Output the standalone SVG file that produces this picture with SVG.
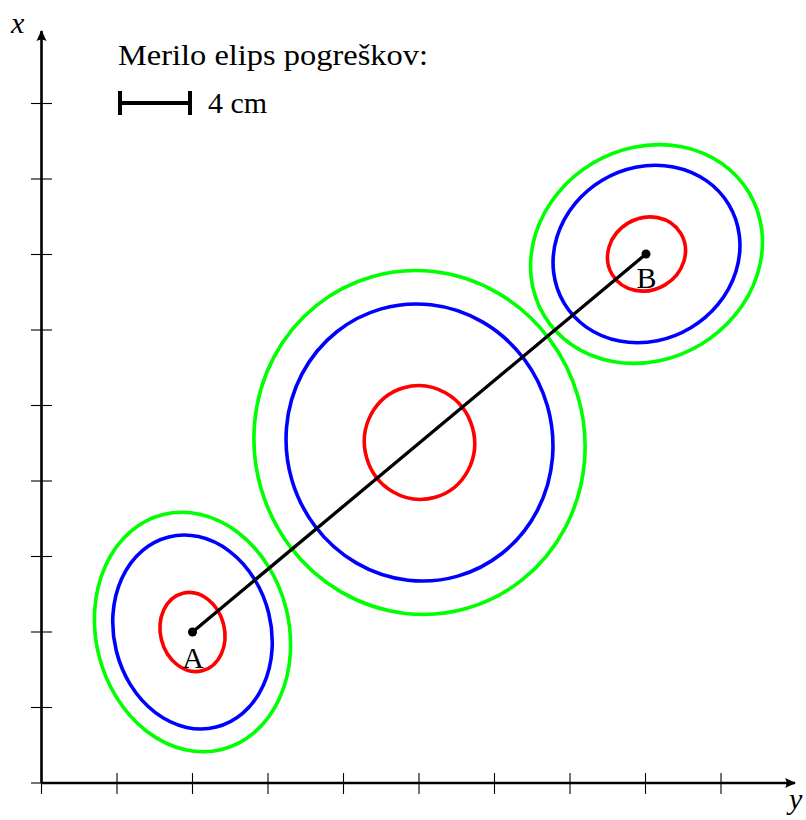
<svg xmlns="http://www.w3.org/2000/svg" width="806" height="820" viewBox="0 0 806 820">
<style>
.txt{font-family:"Liberation Serif","DejaVu Serif",serif;font-size:30px;fill:#000}
.it{font-style:italic}
.ax{stroke:#000;stroke-width:2.6;fill:none}
.tick{stroke:#000;stroke-width:1.1;fill:none}
.e{fill:none;stroke-width:3.6}
.r{stroke:#ff0000}
.b{stroke:#0000ff}
.g{stroke:#00ff00}
.bar{stroke:#000;stroke-width:4;fill:none}
</style>
<defs>
<marker id="arr" markerUnits="userSpaceOnUse" markerWidth="14" markerHeight="12" viewBox="-11 -6 14 12" refX="0" refY="0" orient="auto">
<path d="M1,0 L-10,-5 Q-7,0 -10,5 Z" fill="#000"/>
</marker>
</defs>
<g id="axes">
<line class="ax" x1="41.5" y1="783" x2="41.5" y2="31" marker-end="url(#arr)"/>
<line class="ax" x1="41.5" y1="783" x2="795" y2="783" marker-end="url(#arr)"/>
<g id="ticks-x">
<line class="tick" x1="31" y1="783" x2="52" y2="783"/>
<line class="tick" x1="31" y1="707.5" x2="52" y2="707.5"/>
<line class="tick" x1="31" y1="632" x2="52" y2="632"/>
<line class="tick" x1="31" y1="556.5" x2="52" y2="556.5"/>
<line class="tick" x1="31" y1="481" x2="52" y2="481"/>
<line class="tick" x1="31" y1="405.5" x2="52" y2="405.5"/>
<line class="tick" x1="31" y1="330" x2="52" y2="330"/>
<line class="tick" x1="31" y1="254.5" x2="52" y2="254.5"/>
<line class="tick" x1="31" y1="179" x2="52" y2="179"/>
<line class="tick" x1="31" y1="103.5" x2="52" y2="103.5"/>
</g>
<g id="ticks-y">
<line class="tick" x1="41.5" y1="773" x2="41.5" y2="794"/>
<line class="tick" x1="117" y1="773" x2="117" y2="794"/>
<line class="tick" x1="192.5" y1="773" x2="192.5" y2="794"/>
<line class="tick" x1="268" y1="773" x2="268" y2="794"/>
<line class="tick" x1="343.5" y1="773" x2="343.5" y2="794"/>
<line class="tick" x1="419" y1="773" x2="419" y2="794"/>
<line class="tick" x1="494.5" y1="773" x2="494.5" y2="794"/>
<line class="tick" x1="570" y1="773" x2="570" y2="794"/>
<line class="tick" x1="645.5" y1="773" x2="645.5" y2="794"/>
<line class="tick" x1="721" y1="773" x2="721" y2="794"/>
</g>
<text class="txt it" x="11" y="33">x</text>
<text class="txt it" x="789" y="809">y</text>
</g>
<g id="legend">
<text class="txt" x="118" y="65" textLength="310" lengthAdjust="spacingAndGlyphs">Merilo elips pogreškov:</text>
<line class="bar" x1="118" y1="103" x2="190" y2="103"/>
<line class="bar" x1="120" y1="91" x2="120" y2="115"/>
<line class="bar" x1="190" y1="91" x2="190" y2="115"/>
<text class="txt" x="208" y="113">4 cm</text>
</g>
<g id="ellipses-A" transform="translate(192.5,632) rotate(-14)">
<ellipse class="e r" cx="0" cy="0" rx="32" ry="40"/>
<ellipse class="e b" cx="0" cy="0" rx="78.5" ry="98"/>
<ellipse class="e g" cx="0" cy="0" rx="96.5" ry="121"/>
</g>
<g id="ellipses-M" transform="translate(419.5,442.5) rotate(-16)">
<ellipse class="e r" cx="0" cy="0" rx="55" ry="57"/>
<ellipse class="e b" cx="0" cy="0" rx="133" ry="139"/>
<ellipse class="e g" cx="0" cy="0" rx="165" ry="172.5"/>
</g>
<g id="ellipses-B" transform="translate(646.5,254) rotate(-31)">
<ellipse class="e r" cx="0" cy="0" rx="40" ry="36"/>
<ellipse class="e b" cx="0" cy="0" rx="96" ry="86"/>
<ellipse class="e g" cx="0" cy="0" rx="119.5" ry="105.5"/>
</g>
<g id="connectors">
<line x1="192.5" y1="632" x2="646" y2="254" stroke="#000" stroke-width="3.3"/>
</g>
<g id="node-A">
<circle cx="192.5" cy="632" r="4.5" fill="#000"/>
<text class="txt" x="193" y="668" text-anchor="middle">A</text>
</g>
<g id="node-B">
<circle cx="646" cy="254" r="4.5" fill="#000"/>
<text class="txt" x="646.5" y="288" text-anchor="middle">B</text>
</g>
</svg>
